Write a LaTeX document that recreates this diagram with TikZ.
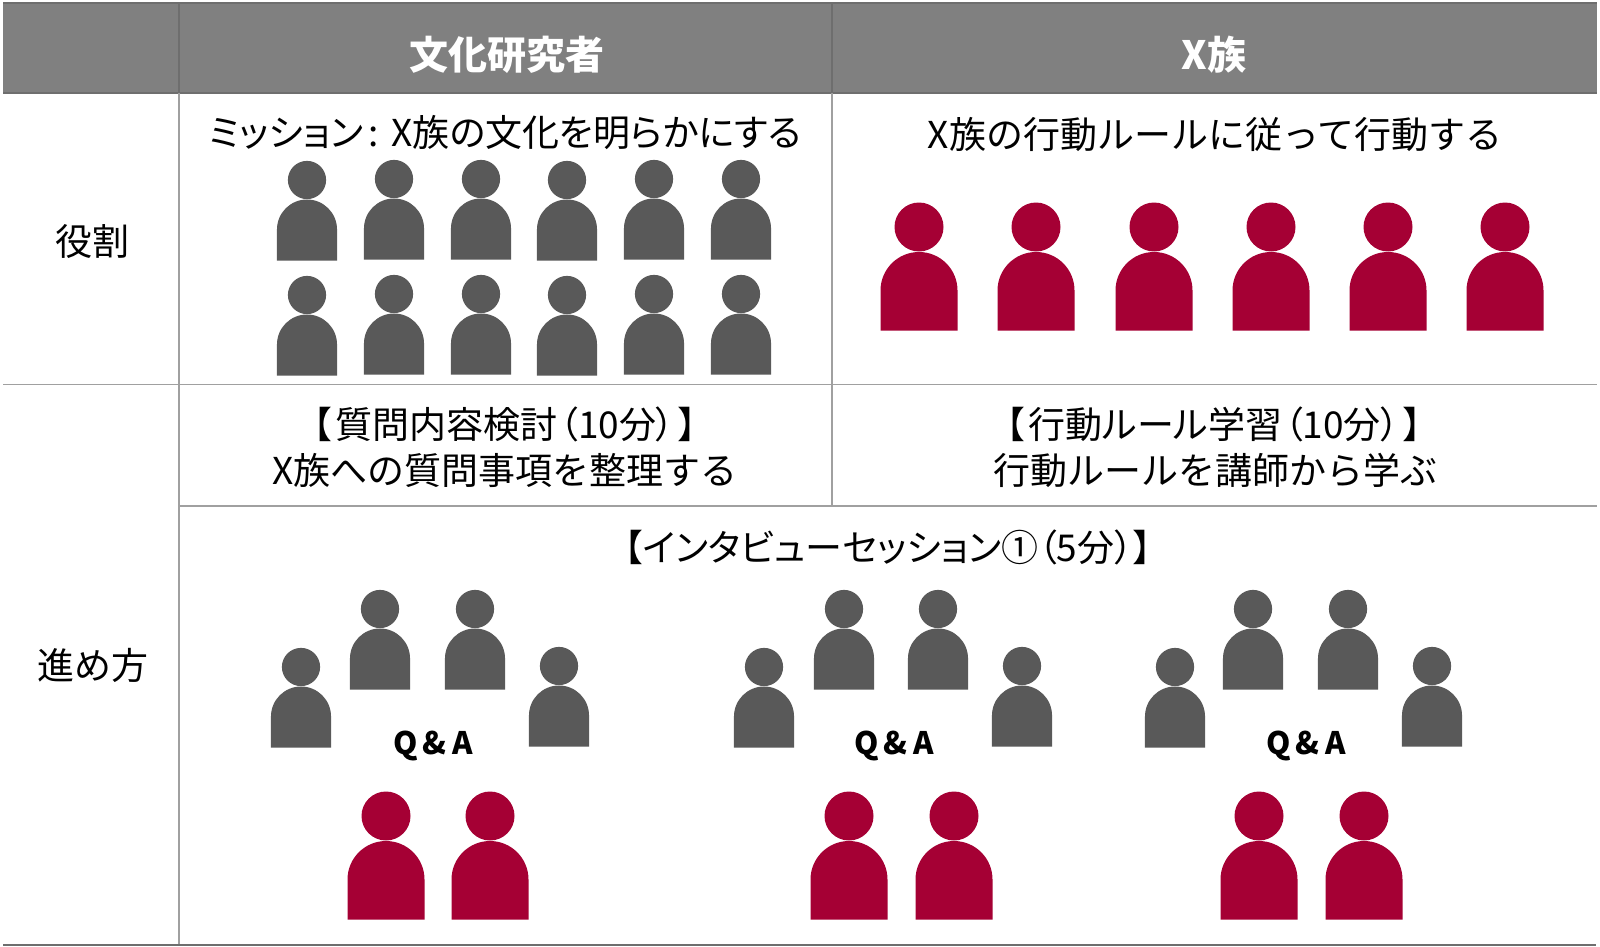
\documentclass[tikz,border=0pt]{standalone}
\usepackage{fontspec}
\setmainfont{Noto Sans CJK JP}
\newfontfamily\pfont[RawFeature=+palt]{Noto Sans CJK JP}
\definecolor{hdr}{HTML}{808080}
\definecolor{hdrline}{HTML}{6E6E6E}
\definecolor{rule}{HTML}{A0A0A0}
\definecolor{pgray}{HTML}{595959}
\definecolor{pred}{HTML}{A50034}
\newcommand{\fs}[1]{\fontsize{#1pt}{#1pt}\selectfont}
\newcommand{\person}[4]{%
  \begin{scope}[shift={(#1,-#2)},scale=#4]
    \fill[#3] (0,0) circle[radius=24.5];
    \fill[#3] (-38.5,-103.5) -- (-38.5,-63.5) arc[start angle=180,end angle=0,radius=38.5] -- (38.5,-103.5) -- cycle;
  \end{scope}}
\newcommand{\gperson}[2]{\person{#1}{#2}{pgray}{0.78}}
\newcommand{\rperson}[2]{\person{#1}{#2}{pred}{1}}
\tikzset{
  x=1pt,y=1pt,
  head/.style={font=\fs{39}\bfseries,text=white,anchor=center,inner sep=0},
  body/.style={font=\fs{37},text=black,anchor=center,inner sep=0},
  prop/.style={font=\pfont\fs{37},text=black,anchor=center,inner sep=0},
  qa/.style={font=\fs{31}\bfseries,text=black,anchor=center,inner sep=0},
  hairline/.style={rule,line width=1.6pt},
  hline/.style={hdrline,line width=1.6pt}
}
\begin{document}
\begin{tikzpicture}
\useasboundingbox (0,0) rectangle (1600,-947);
\fill[white] (0,0) rectangle (1600,-947);
% header band
\fill[hdr] (3,-3) rectangle (1597,-93);
\draw[hline] (3,-3) -- (1597,-3);
\draw[hline] (3,-93) -- (1597,-93);
\draw[hline] (179,-3) -- (179,-93);
\draw[hline] (832,-3) -- (832,-93);
% rules
\draw[hairline] (179,-93) -- (179,-945);
\draw[hairline] (832,-93) -- (832,-506);
\draw[hairline] (3,-384.5) -- (1597,-384.5);
\draw[hairline] (179,-506) -- (1597,-506);
\draw[hdrline,line width=2pt] (3,-945) -- (1596,-945);
% texts
\node[head] (h1) at (507,-55) {文化研究者};
\node[head] (h2) at (1214,-55) {X族};
\node[body] (r1) at (92,-241) {役割};
\node[body] (r2) at (93,-665) {進め方};
\node[prop] (c1) at (505,-133) {ミッション\hspace{5pt}:\hspace{13pt}X族の文化を明らかにする};
\node[body] (c2) at (1215,-134) {X族の行動ルールに従って行動する};
\node[prop] (p1a) at (505,-424) {【\hspace{4pt}質問内容検討\hspace{2pt}（10分）\hspace{4pt}】};
\node[body] (p1b) at (505,-470) {X族への質問事項を整理する};
\node[prop] (p2a) at (1214,-424) {【\hspace{4pt}行動ルール学習\hspace{2pt}（10分）\hspace{4pt}】};
\node[body] (p2b) at (1215,-470) {行動ルールを講師から学ぶ};
\node[prop] (i1) at (888,-547) {【インタビューセッション①（5分）】};
\node[qa] (q1) at (433,-746) {Q\,\&\,A};
\node[qa] (q2) at (894,-746) {Q\,\&\,A};
\node[qa] (q3) at (1306,-746) {Q\,\&\,A};
% researchers
\gperson{307}{180}\gperson{394}{179}\gperson{481}{179}\gperson{567}{180}\gperson{654}{179}\gperson{741}{179}
\gperson{307}{295}\gperson{394}{294}\gperson{481}{294}\gperson{567}{295}\gperson{654}{294}\gperson{741}{294}
% X tribe
\rperson{919}{227}\rperson{1036}{227}\rperson{1154}{227}\rperson{1271}{227}\rperson{1388}{227}\rperson{1505}{227}
% groups
\gperson{301}{667}\gperson{380}{609}\gperson{475}{609}\gperson{559}{666}
\gperson{764}{667}\gperson{844}{609}\gperson{938}{609}\gperson{1022}{666}
\gperson{1175}{667}\gperson{1253}{609}\gperson{1348}{609}\gperson{1432}{666}
\rperson{386}{816}\rperson{490}{816}
\rperson{849}{816}\rperson{954}{816}
\rperson{1259}{816}\rperson{1364}{816}
\end{tikzpicture}
\end{document}
